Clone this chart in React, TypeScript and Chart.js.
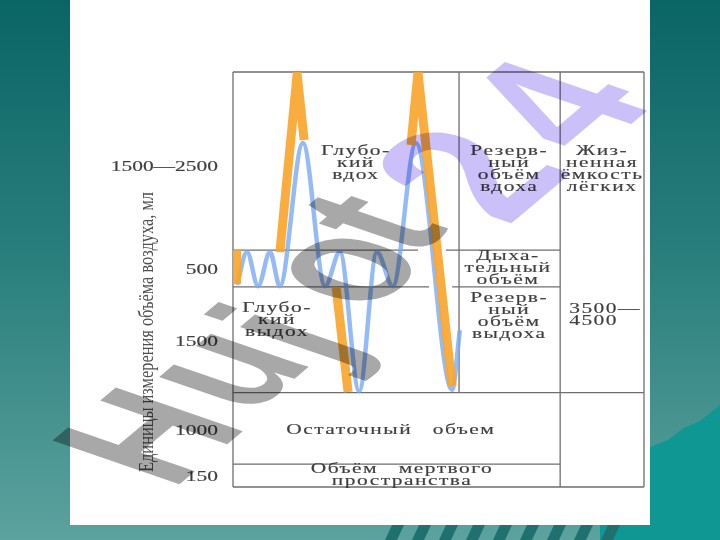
import React, { useEffect, useRef } from "react";
import { Chart, registerables } from "chart.js";

Chart.register(...registerables);

// ---------- schematic scale: level 0 = bottom of the diagram, 100 = top ----------
const bandEdgeLevels = [0, 5.5, 22.75, 48.2, 57.1, 100];
const volumeLabels = ["150", "1000", "1500", "500", "1500—2500"];
const volumeLabelLevels = [2.4, 13.5, 34.9, 52.3, 77.1];
const columnEdgeTimes = [0, 55, 79.6, 100];

// blue spirogram trace (time units 0..100 across the diagram)
const spiroTimes = [1.0, 3.4, 6.1, 9.0, 11.4, 17.0, 22.4, 26.0, 30.7, 35.0, 38.9, 44.5, 53.3, 55.2];
const spiroLevels = [48.7, 56.6, 48.4, 56.6, 48.4, 82.9, 48.4, 56.6, 23.1, 56.6, 48.4, 82.9, 23.4, 37.8];

// orange highlighted strokes
const strokeATimes = [0.85, 0.85];
const strokeALevels = [48.9, 57.1];
const strokeBTimes = [11.4, 15.6, 17.3];
const strokeBLevels = [56.6, 99.5, 83.6];
const strokeCTimes = [25.1, 28.0];
const strokeCLevels = [48.0, 22.9];
const strokeDTimes = [43.3, 45.0, 53.3];
const strokeDLevels = [82.4, 99.8, 24.3];

// text of the cells
const deepInhaleLines = ["Глубо-", "кий", "вдох"];
const inspReserveLines = ["Резерв-", "ный", "объём", "вдоха"];
const vitalCapacityLines = ["Жиз-", "ненная", "ёмкость", "лёгких"];
const tidalLines = ["Дыха-", "тельный", "объём"];
const expReserveLines = ["Резерв-", "ный", "объём", "выдоха"];
const vitalValueLines = ["3500—", "4500"];
const deepExhaleLines = ["Глубо-", "кий", "выдох"];
const residualLines = ["Остаточный   объем"];
const deadSpaceLines = ["Объём   мертвого", "пространства"];
const axisTitle = "Единицы измерения объёма воздуха, мл";
const watermarkText = ["H", "u", "j", "o", "t", "2", "4"];

// ---------- layout / style (not data) ----------
const cellTexts = [
  { lines: deepInhaleLines, t: 29.9, v: 80.8, align: "center" },
  { lines: inspReserveLines, t: 67.2, v: 81.0, align: "center" },
  { lines: vitalCapacityLines, t: 89.8, v: 81.0, align: "center" },
  { lines: tidalLines, t: 66.9, v: 55.7, align: "center" },
  { lines: expReserveLines, t: 67.2, v: 45.5, align: "center" },
  { lines: vitalValueLines, t: 81.8, v: 42.9, align: "left" },
  { lines: deepExhaleLines, t: 10.7, v: 43.1, align: "center" },
  { lines: residualLines, t: 38.4, v: 13.7, align: "center" },
  { lines: deadSpaceLines, t: 41.1, v: 4.3, align: "center" },
];
const rowSegments = [
  [100, 0, 100],
  [57.1, 0, 45.0],
  [57.1, 51.8, 79.6],
  [48.2, 0, 47.7],
  [48.2, 53.3, 79.6],
  [22.75, 0, 100],
  [5.5, 0, 79.6],
  [0, 0, 100],
];
const colSegments = [
  [0, 0, 100],
  [55, 22.75, 100],
  [79.6, 0, 100],
  [100, 0, 100],
];
const wmLayout = [
  { x: 145, y: 435, mid: 0.358, purple: false, s: 1 },
  { x: 235, y: 372, mid: 0.26, purple: false, s: 1 },
  { x: 298, y: 338, mid: 0.255, purple: false, s: 1 },
  { x: 352, y: 270, mid: 0.26, purple: false, s: 1 },
  { x: 372, y: 222, mid: 0.33, purple: false, s: 1 },
  { x: 466, y: 172, mid: 0.355, purple: true, s: 1.15 },
  { x: 552, y: 104, mid: 0.355, purple: true, s: 1.12 },
];

const SERIF = '"Liberation Serif", "DejaVu Serif", serif';
const TEXT_COLOR = "#3e3e3e";
const SX = 1.48;
const LINE_H = 12;

function drawStretched(ctx: CanvasRenderingContext2D, text: string, x: number, y: number, align: string) {
  ctx.save();
  ctx.translate(x, y);
  ctx.scale(SX, 1);
  ctx.textAlign = align as CanvasTextAlign;
  ctx.textBaseline = "middle";
  ctx.strokeText(text, 0, 0);
  ctx.fillText(text, 0, 0);
  ctx.restore();
}

const artPlugin = {
  id: "art",
  beforeDraw(chart: any) {
    const { ctx, width, height } = chart;
    ctx.save();
    const g = ctx.createLinearGradient(0, 0, 0, height);
    g.addColorStop(0, "#0a6565");
    g.addColorStop(0.5, "#2b807e");
    g.addColorStop(1, "#5ca29e");
    ctx.fillStyle = g;
    ctx.fillRect(0, 0, width, height);
    // bright teal lower right
    ctx.fillStyle = "#0f9893";
    ctx.beginPath();
    ctx.moveTo(650, 447);
    ctx.lineTo(668, 440);
    ctx.lineTo(684, 428);
    ctx.lineTo(700, 421);
    ctx.lineTo(720, 405);
    ctx.lineTo(720, 540);
    ctx.lineTo(600, 540);
    ctx.lineTo(600, 525);
    ctx.lineTo(650, 525);
    ctx.closePath();
    ctx.fill();
    // slanted stripes along the bottom edge
    ctx.fillStyle = "#1f706f";
    for (let i = 0; i < 9; i++) {
      const x0 = 385 + i * 27;
      ctx.beginPath();
      ctx.moveTo(x0, 540);
      ctx.lineTo(x0 + 7, 525);
      ctx.lineTo(x0 + 19, 525);
      ctx.lineTo(x0 + 12, 540);
      ctx.closePath();
      ctx.fill();
    }
    // white panel
    ctx.fillStyle = "#ffffff";
    ctx.fillRect(70, 0, 580, 525);
    ctx.restore();
  },
  beforeDatasetsDraw(chart: any) {
    const { ctx } = chart;
    const xs = chart.scales.x;
    const ys = chart.scales.y;
    ctx.save();
    ctx.strokeStyle = "#6f6f6f";
    ctx.lineWidth = 1.3;
    ctx.beginPath();
    for (const [lv, a, b] of rowSegments) {
      const y = ys.getPixelForValue(lv);
      ctx.moveTo(xs.getPixelForValue(a), y);
      ctx.lineTo(xs.getPixelForValue(b), y);
    }
    for (const [t, a, b] of colSegments) {
      const x = xs.getPixelForValue(t);
      ctx.moveTo(x, ys.getPixelForValue(a));
      ctx.lineTo(x, ys.getPixelForValue(b));
    }
    ctx.stroke();
    ctx.restore();
  },
  afterDatasetsDraw(chart: any) {
    const { ctx } = chart;
    const xs = chart.scales.x;
    const ys = chart.scales.y;
    ctx.save();
    ctx.fillStyle = TEXT_COLOR;
    ctx.strokeStyle = TEXT_COLOR;
    ctx.lineWidth = 0.15;
    ctx.font = `14.5px ${SERIF}`;
    (ctx as any).letterSpacing = "1px";
    for (const c of cellTexts) {
      const x = xs.getPixelForValue(c.t);
      const y0 = ys.getPixelForValue(c.v);
      c.lines.forEach((ln, i) => drawStretched(ctx, ln, x, y0 + i * LINE_H, c.align));
    }
    (ctx as any).letterSpacing = "0px";
    // volume labels on the left (y-axis ticks)
    ctx.font = `14.5px ${SERIF}`;
    const xr = chart.chartArea.left - 15;
    ys.ticks.forEach((tk: any, i: number) => {
      drawStretched(ctx, volumeLabels[i], xr, ys.getPixelForValue(tk.value), "right");
    });
    // axis title
    ctx.font = `21px ${SERIF}`;
    ctx.fillStyle = "#505050";
    const w = ctx.measureText(axisTitle).width;
    ctx.translate(147, 332);
    ctx.rotate(-Math.PI / 2);
    ctx.scale(280 / w, 1);
    ctx.textAlign = "center";
    ctx.textBaseline = "middle";
    ctx.fillText(axisTitle, 0, 0);
    ctx.restore();
  },
  afterDraw(chart: any) {
    const { ctx } = chart;
    const F = 195;
    const th = (-40 * Math.PI) / 180;
    const k1 = 0.72;
    ctx.save();
    ctx.globalCompositeOperation = "multiply";
    ctx.font = `bold ${F}px "Liberation Sans", Arial, sans-serif`;
    ctx.textAlign = "center";
    ctx.textBaseline = "alphabetic";
    watermarkText.forEach((ch, i) => {
      const p = wmLayout[i];
      ctx.save();
      ctx.translate(p.x, p.y);
      ctx.transform(k1 * Math.cos(th), k1 * Math.sin(th), 0.946, 0.325, 0, 0);
      ctx.scale(p.s, p.s);
      ctx.fillStyle = p.purple ? "#cbc0f8" : "#a8a8a8";
      ctx.fillText(ch, 0, p.mid * F);
      ctx.restore();
    });
    ctx.restore();
  },
};

function pts(ts: number[], vs: number[]) {
  return ts.map((t, i) => ({ x: t, y: vs[i] }));
}

export default function App() {
  const ref = useRef<HTMLCanvasElement>(null);
  useEffect(() => {
    const canvas = ref.current!;
    const orange = (ts: number[], vs: number[]) => ({
      data: pts(ts, vs),
      borderColor: "rgba(247,166,46,0.92)",
      borderWidth: 9,
      pointRadius: 0,
      tension: 0,
      borderJoinStyle: "miter" as const,
      borderCapStyle: "butt" as const,
      clip: 0,
    });
    const chart = new Chart(canvas, {
      type: "line",
      data: {
        datasets: [
          orange(strokeATimes, strokeALevels),
          orange(strokeBTimes, strokeBLevels),
          orange(strokeCTimes, strokeCLevels),
          orange(strokeDTimes, strokeDLevels),
          {
            data: pts(spiroTimes, spiroLevels),
            borderColor: "rgba(118,168,244,0.78)",
            borderWidth: 4.5,
            pointRadius: 0,
            cubicInterpolationMode: "monotone",
            clip: 0,
          } as any,
        ],
      },
      options: {
        responsive: true,
        maintainAspectRatio: false,
        animation: false,
        layout: { padding: { left: 233, right: 76, top: 72, bottom: 53 } },
        plugins: { legend: { display: false }, tooltip: { enabled: false } },
        scales: {
          x: { type: "linear", min: 0, max: 100, display: false },
          y: {
            type: "linear",
            min: 0,
            max: 100,
            display: false,
            afterBuildTicks: (s: any) => {
              s.ticks = volumeLabelLevels.map((v) => ({ value: v }));
            },
          },
        },
      },
      plugins: [artPlugin],
    });
    return () => chart.destroy();
  }, []);
  return (
    <div style={{ position: "fixed", left: 0, top: 0, width: 720, height: 540 }}>
      <canvas ref={ref} />
    </div>
  );
}
